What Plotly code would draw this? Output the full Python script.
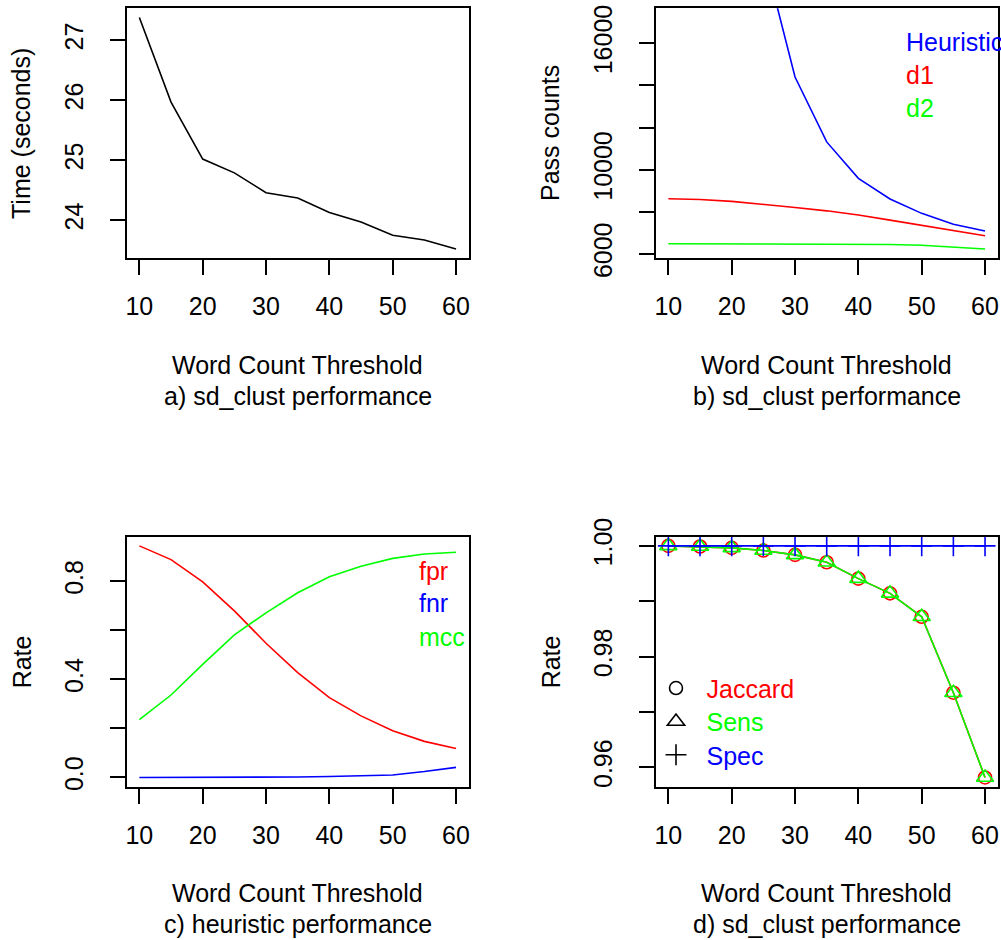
import plotly.graph_objects as go

# ---------------- data ----------------
thresholds = [10, 15, 20, 25, 30, 35, 40, 45, 50, 55, 60]
x_tick_vals = [10, 20, 30, 40, 50, 60]
x_tick_text = ["10", "20", "30", "40", "50", "60"]

time_seconds = [27.38, 25.97, 25.02, 24.79, 24.46, 24.37, 24.13, 23.97, 23.75, 23.67, 23.52]
time_ticks = [24, 25, 26, 27]
time_tick_text = ["24", "25", "26", "27"]

heuristic = [76000, 46000, 29500, 20300, 14400, 11320, 9590, 8610, 7930, 7410, 7090]
d1 = [8620, 8590, 8500, 8370, 8210, 8050, 7850, 7610, 7370, 7100, 6870]
d2 = [6490, 6488, 6485, 6482, 6478, 6472, 6462, 6450, 6420, 6330, 6237]
pass_ylim = [6237, 17220]
pass_ticks = [6000, 8000, 10000, 12000, 14000, 16000]
pass_tick_text = ["6000", "", "10000", "", "", "16000"]

fpr = [0.944, 0.888, 0.797, 0.679, 0.547, 0.427, 0.325, 0.251, 0.190, 0.147, 0.118]
fnr = [0.000, 0.000, 0.000, 0.001, 0.001, 0.002, 0.004, 0.006, 0.010, 0.024, 0.041]
mcc = [0.236, 0.336, 0.461, 0.581, 0.671, 0.753, 0.818, 0.861, 0.893, 0.911, 0.918]
rate_ticks = [0.0, 0.2, 0.4, 0.6, 0.8]
rate_tick_text = ["0.0", "", "0.4", "", "0.8"]

jaccard = [1.0000, 0.99988, 0.99964, 0.99915, 0.99837, 0.99704, 0.99408, 0.99143, 0.98719, 0.97349, 0.95819]
sens = [1.0000, 0.99988, 0.99964, 0.99915, 0.99837, 0.99704, 0.99408, 0.99143, 0.98719, 0.97349, 0.95819]
spec = [1.0, 1.0, 1.0, 1.0, 1.0, 1.0, 1.0, 1.0, 1.0, 1.0, 1.0]
rate2_ticks = [0.96, 0.97, 0.98, 0.99, 1.00]
rate2_tick_text = ["0.96", "", "0.98", "", "1.00"]

# ---------------- helpers ----------------
W, H = 1001, 940
FONT = "Liberation Sans, Arial, Helvetica, sans-serif"
FS = 25
LW = 1.6


def r_range(lo, hi):
    s = hi - lo
    return [lo - 0.04 * s, hi + 0.04 * s]


def px_x(p):
    return p / W


def px_y(p):
    return 1 - p / H


cols = [(126.7, 468.7), (655.7, 997.7)]
rows = [(8.3, 258.3), (536.6, 786.7)]

xr = r_range(min(thresholds), max(thresholds))


def xaxis(ci, ri, anchor):
    return dict(domain=[px_x(cols[ci][0]), px_x(cols[ci][1])], anchor=anchor,
                range=xr, tickmode="array", tickvals=x_tick_vals, ticktext=x_tick_text,
                ticks="outside", ticklen=15, tickwidth=LW, tickcolor="black",
                showline=True, mirror=True, linecolor="black", linewidth=LW,
                showgrid=False, zeroline=False, automargin=False,
                tickfont=dict(family=FONT, size=FS, color="black"),
                ticklabelstandoff=10)


def yaxis(ci, ri, anchor, rng, tv, tt):
    return dict(domain=[px_y(rows[ri][1]), px_y(rows[ri][0])], anchor=anchor,
                range=rng, tickmode="array", tickvals=tv, ticktext=tt,
                ticks="outside", ticklen=15, tickwidth=LW, tickcolor="black",
                showline=True, mirror=True, linecolor="black", linewidth=LW,
                showgrid=False, zeroline=False, automargin=False, tickangle=-90,
                tickfont=dict(family=FONT, size=FS, color="black"),
                ticklabelstandoff=17)


fig = go.Figure()

# a) time
fig.add_trace(go.Scatter(x=thresholds, y=time_seconds, mode="lines",
                         line=dict(color="black", width=LW), xaxis="x", yaxis="y",
                         showlegend=False))
# b) pass counts
for vals, col in [(heuristic, "#0000FF"), (d1, "#FF0000"), (d2, "#00FF00")]:
    fig.add_trace(go.Scatter(x=thresholds, y=vals, mode="lines",
                             line=dict(color=col, width=LW), xaxis="x2", yaxis="y2",
                             showlegend=False))
# c) rates
for vals, col in [(fpr, "#FF0000"), (fnr, "#0000FF"), (mcc, "#00FF00")]:
    fig.add_trace(go.Scatter(x=thresholds, y=vals, mode="lines",
                             line=dict(color=col, width=LW), xaxis="x3", yaxis="y3",
                             showlegend=False))
# d) jaccard / sens / spec
fig.add_trace(go.Scatter(x=thresholds, y=jaccard, mode="lines+markers",
                         line=dict(color="#FF0000", width=LW),
                         marker=dict(symbol="circle-open", size=13, color="#FF0000",
                                     line=dict(width=LW, color="#FF0000")),
                         xaxis="x4", yaxis="y4", showlegend=False, cliponaxis=False))
fig.add_trace(go.Scatter(x=thresholds, y=sens, mode="lines+markers",
                         line=dict(color="#00FF00", width=LW),
                         marker=dict(symbol="triangle-up-open", size=15, color="#00FF00",
                                     line=dict(width=LW, color="#00FF00")),
                         xaxis="x4", yaxis="y4", showlegend=False, cliponaxis=False))
fig.add_trace(go.Scatter(x=thresholds, y=spec, mode="lines+markers",
                         line=dict(color="#0000FF", width=LW),
                         marker=dict(symbol="cross-thin", size=15, color="#0000FF",
                                     line=dict(width=LW, color="#0000FF")),
                         xaxis="x4", yaxis="y4", showlegend=False, cliponaxis=False))

# legend entries for panel d (black symbols, coloured text)
leg_items = [("Jaccard", "circle-open", 13, "#FF0000", "legend", 688.3),
             ("Sens", "triangle-up-open", 15, "#00FF00", "legend2", 721.7),
             ("Spec", "cross-thin", 15, "#0000FF", "legend3", 755.0)]
for name, sym, sz, col, lg, yc in leg_items:
    fig.add_trace(go.Scatter(x=[None], y=[None], mode="markers", name=name,
                             marker=dict(symbol=sym, size=sz, color="black",
                                         line=dict(width=LW, color="black")),
                             xaxis="x4", yaxis="y4", showlegend=True, legend=lg))

legend_common = dict(xanchor="left", yanchor="middle", bgcolor="rgba(0,0,0,0)",
                     borderwidth=0, itemwidth=51, itemclick=False)
leg_layout = {}
for name, sym, sz, col, lg, yc in leg_items:
    leg_layout[lg] = dict(legend_common, x=px_x(676 - 30.5), y=px_y(yc),
                          font=dict(family=FONT, size=FS, color=col))

annotations = []


def ann(text, xp, yp, color="black", angle=0, xanchor="center"):
    annotations.append(dict(text=text, x=px_x(xp), y=px_y(yp), xref="paper", yref="paper",
                            showarrow=False, textangle=angle, xanchor=xanchor,
                            yanchor="middle",
                            font=dict(family=FONT, size=FS, color=color)))


subs = ["a) sd_clust performance", "b) sd_clust performance",
        "c) heuristic performance", "d) sd_clust performance"]
ylabels = ["Time (seconds)", "Pass counts", "Rate", "Rate"]
for i in range(4):
    ci, ri = i % 2, i // 2
    cx = (cols[ci][0] + cols[ci][1]) / 2
    cy = (rows[ri][0] + rows[ri][1]) / 2
    yb = rows[ri][1]
    ann("Word Count Threshold", cx, yb + 106.5)
    ann(subs[i], cx, yb + 137.5)
    ann(ylabels[i], cols[ci][0] - 105, cy, angle=-90)

# panel b legend text
ann("Heuristic", 903.7, 41.7, color="#0000FF", xanchor="left")
ann("d1", 903.7, 75.0, color="#FF0000", xanchor="left")
ann("d2", 903.7, 108.3, color="#00FF00", xanchor="left")
# panel c legend text
ann("fpr", 417.3, 570.7, color="#FF0000", xanchor="left")
ann("fnr", 417.3, 603.3, color="#0000FF", xanchor="left")
ann("mcc", 417.3, 636.7, color="#00FF00", xanchor="left")

fig.update_layout(
    width=W, height=H, margin=dict(l=0, r=0, t=0, b=0, pad=0),
    paper_bgcolor="white", plot_bgcolor="white",
    font=dict(family=FONT, size=FS, color="black"),
    xaxis=xaxis(0, 0, "y"),
    yaxis=yaxis(0, 0, "x", r_range(min(time_seconds), max(time_seconds)), time_ticks, time_tick_text),
    xaxis2=xaxis(1, 0, "y2"),
    yaxis2=yaxis(1, 0, "x2", r_range(pass_ylim[0], pass_ylim[1]), pass_ticks, pass_tick_text),
    xaxis3=xaxis(0, 1, "y3"),
    yaxis3=yaxis(0, 1, "x3", r_range(min(fnr + fpr + mcc), max(fnr + fpr + mcc)), rate_ticks, rate_tick_text),
    xaxis4=xaxis(1, 1, "y4"),
    yaxis4=yaxis(1, 1, "x4", r_range(min(jaccard + sens + spec), max(jaccard + sens + spec)), rate2_ticks, rate2_tick_text),
    annotations=annotations,
    **leg_layout,
)

fig.write_html("out.html", config={"displayModeBar": False},
               post_script="document.body.style.margin='0';document.body.style.overflow='hidden';")
